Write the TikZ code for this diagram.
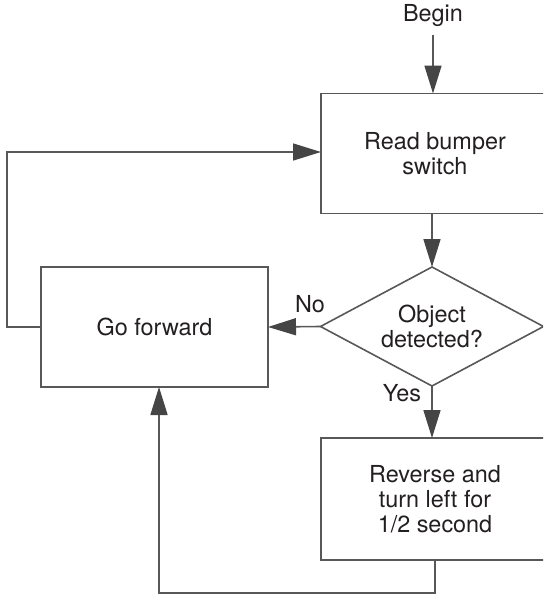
\documentclass[tikz,border=0pt]{standalone}
\usepackage{fontspec}
\setmainfont{TeX Gyre Heros}
\usetikzlibrary{shapes.geometric,arrows.meta}
\definecolor{linegray}{HTML}{585858}
\definecolor{tipgray}{HTML}{454545}
\definecolor{ink}{HTML}{231F20}

\begin{document}
\begin{tikzpicture}[x=0.5pt, y=-0.5pt,
	every node/.style={font=\fontsize{11.7}{12.5}\selectfont, text=ink, align=center},
	box/.style={draw=linegray, line width=0.8pt, minimum width=114pt, minimum height=60pt, inner sep=0pt, outer sep=0pt},
	decision/.style={draw=linegray, line width=0.8pt, diamond, aspect=1.87, minimum width=111.5pt, minimum height=59.5pt, inner sep=0pt, outer sep=0pt},
	flow/.style={draw=linegray, line width=0.8pt, -{Triangle[length=14pt, width=8.5pt, color=tipgray]}}]
	\clip (0,0) rectangle (543,596);

	\node (begin) [inner sep=4pt] at (433,16) {Begin};
	\node[box] (read) at (435,153.5) {Read bumper\\switch};
	\node[decision] (object) at (432,326.5) {Object\\detected?};
	\node[box, minimum width=113.5pt] (go) at (154.5,327) {Go forward};
	\node[box, minimum height=61pt] (rev) at (435,499) {Reverse and\\turn left for\\1/2 second};
	\node (no) at (310,304) {No};
	\node (yes) at (402,393) {Yes};
	\coordinate (loopL) at (7,152);
	\coordinate (loopB) at (159,593);

	\draw[flow] (begin.south) -- (begin.south |- read.north);
	\draw[flow] (read.south -| object.north) -- (object.north);
	\draw[flow] (object.west) -- (go.east);
	\draw[flow] (object.south) -- (object.south |- rev.north);
	\draw[flow] (rev.south) |- (loopB) -- (loopB |- go.south);
	\draw[flow] (go.west) -| (loopL) -- (loopL -| read.west);

\end{tikzpicture}
\end{document}
